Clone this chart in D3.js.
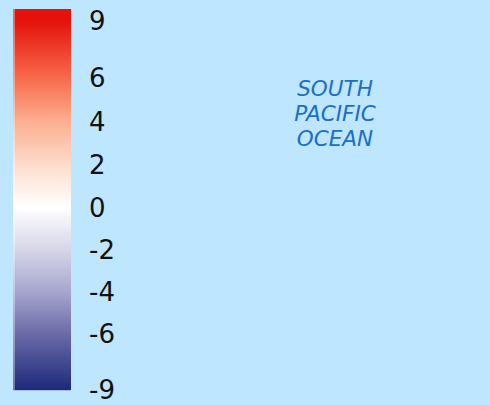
<!DOCTYPE html>
<html>
<head>
  <meta charset="UTF-8">
  <script src="https://d3js.org/d3.v7.js"></script>
  <style>
    body { margin: 0; background: #bee6fe; }
  </style>
</head>
<body>
  <div id="chart"></div>
  <script>
    // data
    const tickValues = [9, 6, 4, 2, 0, -2, -4, -6, -9];
    const stopValues = [9, 6, 4, 2, 0, -2, -4, -6, -9];
    const stopColors = ['#e5120c', '#f76a4c', '#fcae90', '#fddccc', '#ffffff',
                        '#d6d6e8', '#a6a6cf', '#6b6aa8', '#1c2a7a'];
    const labelLines = ['SOUTH', 'PACIFIC', 'OCEAN'];

    const width = 490, height = 405;

    const svg = d3.select('#chart')
      .append('svg')
        .attr('width', width)
        .attr('height', height);

    svg.append('rect')
        .attr('width', width)
        .attr('height', height)
        .attr('fill', '#bee6fe');

    // scales (legend labels are not evenly spaced)
    const y = d3.scaleLinear()
        .domain([9, 6, 2, -6, -9])
        .range([21, 78, 165, 334, 390]);

    const color = d3.scaleLinear()
        .domain(stopValues)
        .range(stopColors)
        .interpolate(d3.interpolateRgb);

    // colour bar, drawn as thin strips
    const barTop = 9, barBottom = 390;
    const strips = d3.range(barTop, barBottom, 1);

    svg.append('g')
      .selectAll('rect')
      .data(strips)
      .join('rect')
        .attr('x', 13)
        .attr('y', d => d)
        .attr('width', 58)
        .attr('height', 1.2)
        .attr('fill', d => color(y.invert(Math.max(21, Math.min(390, d + 0.5)))));

    // light left edge
    svg.append('rect')
        .attr('x', 13)
        .attr('y', barTop)
        .attr('width', 2)
        .attr('height', barBottom - barTop)
        .attr('fill', '#fff')
        .attr('opacity', 0.35);

    // tick labels
    svg.append('g')
      .selectAll('text')
      .data(tickValues)
      .join('text')
        .attr('x', 89)
        .attr('y', d => y(d))
        .attr('dy', '0.36em')
        .attr('font-family', 'DejaVu Sans, sans-serif')
        .attr('font-size', 26)
        .attr('fill', '#111')
        .text(d => d);

    // ocean label
    svg.append('g')
      .selectAll('text')
      .data(labelLines)
      .join('text')
        .attr('x', 335)
        .attr('y', (d, i) => 96 + i * 25)
        .attr('text-anchor', 'middle')
        .attr('font-family', 'DejaVu Sans, sans-serif')
        .attr('font-style', 'italic')
        .attr('font-size', 21.5)
        .attr('fill', '#1a6fc6')
        .text(d => d);
  </script>
</body>
</html>
